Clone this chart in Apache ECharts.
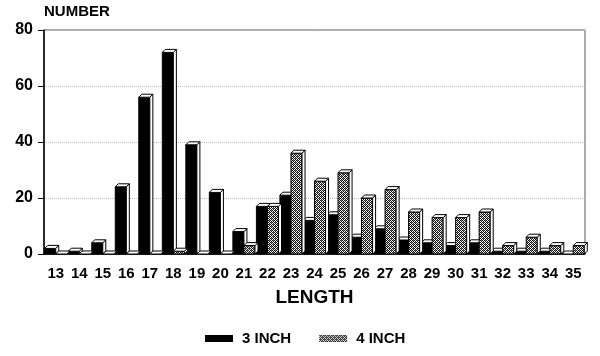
<!DOCTYPE html>
<html>
<head>
<meta charset="utf-8">
<script src="https://cdn.jsdelivr.net/npm/echarts@6/dist/echarts.min.js"></script>
<style>html,body{margin:0;padding:0;background:#fff}#c{width:600px;height:356px}</style>
</head>
<body>
<div id="c"></div>
<script>
const categories = ['13','14','15','16','17','18','19','20','21','22','23','24','25','26','27','28','29','30','31','32','33','34','35'];
const inch3 = [2,1,4,24,56,72,39,22,8,17,21,12,14,6,9,5,4,3,4,1,1,1,0];
const inch4 = [0,0,0,0,0,1,0,0,3,17,36,26,29,20,23,15,13,13,15,3,6,3,3];
const yTicks = [0,20,40,60,80];
const seriesNames = ['3 INCH','4 INCH'];

// hatch pattern
const pc = document.createElement('canvas');
pc.width = 4; pc.height = 4;
const g = pc.getContext('2d');
g.fillStyle = '#ffffff'; g.fillRect(0,0,4,4);
g.fillStyle = '#111';
[[0,0],[2,0],[1,1],[3,1],[0,2],[2,2],[1,3],[3,3]].forEach(p=>g.fillRect(p[0],p[1],1,1));
g.fillStyle = '#777';
[[1,0],[3,2]].forEach(p=>g.fillRect(p[0],p[1],1,1));
const hatch = {image: pc, repeat: 'repeat'};

const FONT = 'Liberation Sans, Arial, sans-serif';
const D = 3;

function makeRender(side, fill) {
  return function (params, api) {
    const idx = api.value(0), val = api.value(1);
    const base = api.coord([idx, 0]);
    const top = api.coord([idx, val]);
    const bw = api.size([1, 0])[0];
    const w = 0.47 * bw;
    const x0 = side === 0 ? base[0] - w : base[0];
    const y0 = base[1], yT = top[1];
    const children = [];
    if (y0 - yT > 0.5) {
      children.push({type:'rect', shape:{x:x0, y:yT, width:w, height:y0-yT},
        style:{fill: fill, stroke:'#000', lineWidth:1}});
      children.push({type:'polygon', shape:{points:[[x0+w,yT],[x0+w+D,yT-D],[x0+w+D,y0-D],[x0+w,y0]]},
        style:{fill:'#fff', stroke:'#000', lineWidth:1}});
    }
    children.push({type:'polygon', shape:{points:[[x0,yT],[x0+D,yT-D],[x0+w+D,yT-D],[x0+w,yT]]},
      style:{fill:'#fff', stroke:'#000', lineWidth:1}});
    return {type:'group', children: children};
  };
}

const chart = echarts.init(document.getElementById('c'), null, {renderer:'canvas'});
chart.setOption({
  backgroundColor: '#fff',
  animation: false,
  textStyle: {fontFamily: FONT, color: '#000'},
  grid: {left: 44, right: 15, top: 30, bottom: 102, show: true, borderColor: '#555', borderWidth: 1},
  legend: {
    data: seriesNames, left: 205, top: 331, padding: 0, itemWidth: 28, itemHeight: 7, itemGap: 28,
    icon: 'rect',
    textStyle: {fontFamily: FONT, fontSize: 15, fontWeight: 'bold', color: '#000', padding: [0,0,0,4]}
  },
  xAxis: {
    type: 'category', data: categories,
    name: 'LENGTH', nameLocation: 'middle', nameGap: 34,
    nameTextStyle: {fontFamily: FONT, fontSize: 19, fontWeight: 'bold', color: '#000'},
    axisLine: {lineStyle: {color: '#000', width: 1.5}},
    axisTick: {alignWithLabel: true, length: 8, lineStyle: {color: '#000'}},
    axisLabel: {margin: 12, fontFamily: FONT, fontSize: 15, fontWeight: 'bold', color: '#000', interval: 0}
  },
  yAxis: {
    type: 'value', min: yTicks[0], max: yTicks[yTicks.length-1], interval: 20,
    name: 'NUMBER', nameLocation: 'end', nameGap: 11,
    nameTextStyle: {fontFamily: FONT, fontSize: 15, fontWeight: 'bold', color: '#000', align: 'left', verticalAlign: 'bottom'},
    axisLine: {show: true, lineStyle: {color: '#000', width: 1.5}},
    axisTick: {show: true, length: 6, lineStyle: {color: '#000'}},
    axisLabel: {margin: 11, fontFamily: FONT, fontSize: 16, fontWeight: 'bold', color: '#000'},
    splitLine: {show: true, lineStyle: {color: '#bbb', type: 'dotted', width: 1}}
  },
  series: [
    {name: seriesNames[0], type: 'custom', renderItem: makeRender(0, '#000'),
     itemStyle: {color: '#000'}, encode: {x: 0, y: 1},
     data: inch3.map((v,i)=>[i,v]), z: 2},
    {name: seriesNames[1], type: 'custom', renderItem: makeRender(1, hatch),
     itemStyle: {color: hatch}, encode: {x: 0, y: 1},
     data: inch4.map((v,i)=>[i,v]), z: 3}
  ]
});
</script>
</body>
</html>
